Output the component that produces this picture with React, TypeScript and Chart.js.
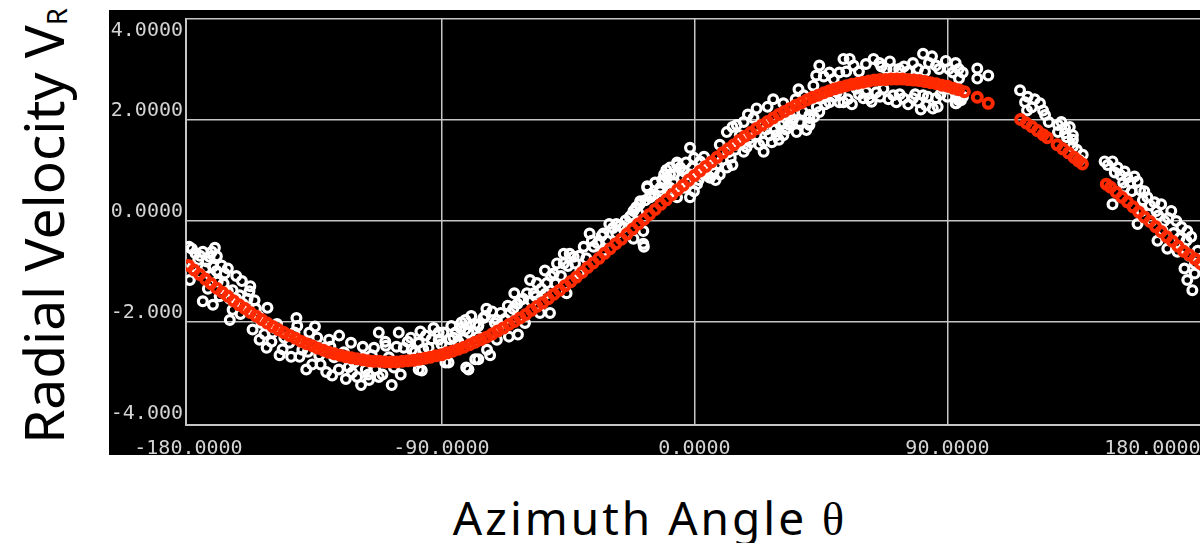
import React, { useEffect, useRef } from 'react';
import { Chart, registerables } from 'chart.js';

Chart.register(...registerables);

// ---------- tick values / labels ----------
const X_TICKS = [-180, -90, 0, 90, 180];
const X_TICK_LABELS = ['-180.0000', '-90.0000', '0.0000', '90.0000', '180.0000'];
const Y_TICKS = [-4, -2, 0, 2, 4];
const Y_TICK_LABELS = ['-4.000', '-2.000', '0.0000', '2.0000', '4.0000'];
const X_GRID = [-90, 0, 90, 180];
const Y_GRID = [-2, 0, 2, 4];

// ---------- observed data (azimuth deg, radial velocity) ----------
const WHITE_A: number[][] = [
  [-179.8,-0.52],[-174.9,-0.62],[-171.7,-0.62],[-169.9,-0.71],[-168.2,-0.89],[-171.3,-0.91],[-178.4,-0.91],[-179.5,-1.18],
  [-174.9,-1.60],[-171.3,-1.67],[-168.9,-1.50],[-164.3,-1.38],[-161.8,-1.48],[-158.3,-1.40],[-164.3,-1.77],[-165.3,-1.97],
  [-159.3,-1.77],[-151.9,-1.73],[-157.2,-2.16],[-154.7,-2.36],[-152.2,-2.52],[-150.1,-2.22],[-147.6,-2.67],[-141.6,-1.93],
  [-141.3,-2.09],[-137.0,-2.22],[-144.1,-2.42],[-139.5,-2.56],[-138.1,-2.95],[-136.0,-2.85],[-133.5,-2.67],[-130.0,-2.36],
  [-126.4,-2.28],[-128.9,-3.07],[-124.0,-3.14],[-121.8,-3.01],[-118.6,-3.26],[-115.8,-3.16],[-112.3,-3.10],[-107.7,-3.26],
  [-116.9,-2.95],[-114.8,-2.67],[-112.3,-2.22],[-109.8,-2.48],[-105.2,-2.22],[-100.6,-2.56],[-98.1,-2.95],[-95.6,-2.28],
  [-91.0,-2.22],[-88.6,-2.81],[-86.5,-2.09],[-81.5,-1.97],[-79.4,-1.89],[-81.2,-2.91],[-78.0,-2.75],
  [-178.8,-0.56],[-175.9,-0.70],[-173.5,-0.81],[-170.6,-0.54],[-167.1,-1.05],[-169.6,-1.21],[-173.1,-1.35],[-165.3,-1.55],
  [-160.7,-1.65],[-156.5,-1.58],[-154.0,-2.03],[-149.4,-2.13],[-145.9,-2.32],[-142.3,-2.22],[-138.8,-2.42],[-134.2,-2.32],
  [-131.7,-2.52],[-124.7,-2.61],[-121.1,-2.81],[-117.6,-2.71],[-128.2,-2.71],[-122.2,-2.42],[-114.0,-2.52],[-108.7,-2.71],
  [-106.9,-2.91],[-103.4,-2.52],[-100.9,-2.32],[-98.1,-2.42],[-94.6,-2.52],[-92.8,-2.13],[-89.3,-2.22],[-85.7,-2.32],
  [-83.3,-2.13],[-80.4,-2.22],[-78.7,-2.42],[-76.9,-2.07],[-75.1,-1.93],
  [-176.5,-0.78],[-172.5,-0.72],[-166.0,-0.95],[-163.0,-1.10],[-161.0,-1.20],[-158.0,-1.30],
  [-177.5,-0.65],[-176.0,-1.05],[-174.0,-0.95],[-172.0,-1.10],[-170.0,-1.00],[-167.5,-1.25],[-166.0,-1.40],[-163.0,-1.55],
  [-161.5,-1.85],[-159.0,-1.55],[-156.0,-1.75],[-155.0,-1.90],[-153.0,-2.25],[-150.5,-2.40],[-148.5,-2.05],[-146.5,-2.55],
  [-143.5,-2.70],[-140.5,-2.70],[-137.5,-2.60],[-135.0,-2.10],[-133.0,-2.85],[-131.0,-3.00],[-129.5,-2.50],[-126.5,-2.95],
  [-123.0,-2.90],[-120.0,-3.10],[-118.0,-2.50],[-116.0,-3.05],[-113.5,-2.95],[-111.0,-3.05],[-110.0,-2.40],[-106.0,-2.50],
  [-104.5,-3.05],[-102.0,-2.40],[-99.5,-2.60],[-97.5,-2.20],[-96.5,-2.55],[-93.5,-2.35],[-90.0,-2.45],[-87.0,-2.35],
  [-84.0,-2.40],[-82.0,-2.35],[-78.0,-2.05],[-77.0,-2.30],
];
const WHITE_B: number[][] = [
  [-97.0,-2.97],[-87.5,-2.81],[-82.9,-2.02],[-74.4,-1.89],[-76.9,-2.09],[-71.0,-2.03],[-68.9,-1.83],[-66.4,-1.69],
  [-70.3,-2.36],[-73.8,-2.56],[-72.7,-2.67],[-76.9,-2.75],[-80.4,-2.95],[-62.8,-2.26],[-60.3,-2.03],[-64.1,-1.44],
  [-62.0,-1.58],[-58.5,-1.18],[-57.1,-1.44],[-55.0,-1.83],[-51.4,-1.83],[-53.2,-0.99],[-48.9,-0.85],[-46.5,-0.66],
  [-44.4,-0.66],[-39.4,-0.52],[-37.3,-0.26],[-45.5,-1.44],[-40.9,-1.05],[-32.4,-0.60],[-30.3,-0.07],[-27.8,-0.26],
  [-25.3,-0.13],[-23.0,0.07],[-20.7,0.26],[-21.7,-0.36],[-18.2,-0.46],[-18.2,-0.21],[-16.8,0.65],[-15.7,0.46],
  [-10.8,0.91],[-8.7,0.65],[-6.2,1.11],[-3.7,0.65],[-1.6,0.46],[-0.2,1.24],[4.4,0.91],
  [-91.0,-2.36],[-85.0,-2.22],[-81.5,-2.16],[-70.3,-1.97],[-65.7,-1.83],[-59.6,-1.44],[-56.1,-1.24],[-52.5,-1.24],
  [-50.1,-1.05],[-46.5,-0.85],[-43.0,-0.72],[-35.9,-0.52],[-32.4,-0.26],[-27.8,-0.07],[-21.7,0.19],[-19.6,0.32],
  [-15.7,0.52],[-12.2,0.65],[-8.7,0.91],[-5.1,1.05],[-1.6,0.91],[2.0,1.17],[5.5,0.85],
  [-74.0,-1.75],[-72.0,-1.80],[-69.5,-2.10],[-67.5,-1.95],[-64.5,-1.75],[-63.0,-1.65],[-61.0,-1.55],[-58.0,-1.60],
  [-56.5,-1.50],[-54.5,-1.35],[-53.0,-1.45],[-51.0,-1.10],[-49.5,-1.25],[-47.5,-1.10],[-45.0,-0.90],[-42.5,-0.85],
  [-41.0,-0.70],[-38.5,-0.75],[-36.5,-0.40],[-34.5,-0.45],[-33.0,-0.30],[-31.0,-0.40],[-29.0,-0.15],[-26.5,-0.10],
  [-24.5,0.00],[-22.5,0.10],[-20.0,0.15],[-17.5,0.40],[-14.0,0.75],[-11.5,0.80],[-10.0,1.00],[-7.5,0.75],
  [-4.5,0.85],[-3.0,1.15],[-0.8,1.05],[1.0,0.95],[3.0,1.05],[-66.0,-2.30],
];
const WHITE_C: number[][] = [
  [-18.0,-0.52],[-16.8,0.68],[-19.3,0.38],[-14.3,0.52],[-12.2,0.58],[-10.8,0.77],[-8.7,1.05],[-6.2,1.15],
  [-3.7,0.97],[-2.7,0.77],[-1.6,1.44],[-6.2,0.46],[-9.7,0.85],[3.4,1.26],[5.5,0.85],[9.0,0.91],
  [11.5,1.05],[9.0,1.50],[11.5,1.75],[15.0,1.89],[16.1,1.69],[19.6,1.63],[21.0,2.03],[22.1,2.22],
  [24.6,1.56],[24.6,1.36],[26.7,1.69],[29.2,1.69],[31.6,1.69],[33.8,1.89],[36.3,1.75],[31.6,1.93],
  [40.9,2.03],[40.9,1.89],[38.8,2.48],[42.3,2.67],[44.4,3.07],[43.3,2.87],[44.4,2.15],[48.0,2.93],
  [51.5,2.93],[53.0,3.20],[55.2,3.20],[56.6,3.07],[50.6,2.54],[53.0,2.34],[57.6,2.61],[60.1,2.42],
  [62.2,2.42],[63.7,3.20],[65.8,3.12],[68.3,3.00],[70.7,3.00],[72.8,3.00],[77.7,3.12],[81.3,3.30],
  [83.4,3.12],[85.9,3.07],[89.4,3.16],[92.9,3.12],[91.9,2.93],[95.4,2.93],[64.7,2.54],[67.2,2.61],
  [70.7,2.48],[71.8,2.34],[74.3,2.42],[77.7,2.42],[79.8,2.34],[82.3,2.28],[84.8,2.22],[81.3,2.48],
  [85.9,2.42],[88.4,2.61],[91.9,2.61],[92.9,2.32],[94.0,2.38],[40.9,2.09],[48.0,2.34],[45.5,2.42],
  [51.5,2.34],[40.5,1.93],[39.8,1.79],[35.3,2.13],[31.6,2.32],[33.8,2.09],[30.5,1.89],[24.6,1.89],
  [22.1,1.69],[15.0,1.50],[17.5,1.36],[12.9,1.24],[8.0,1.11],[3.4,0.91],[6.9,0.97],[0.9,0.72],
  [-0.2,0.58],[-5.1,0.65],[-8.7,0.58],[-7.3,0.91],
  [1.5,0.80],[4.0,1.00],[6.0,1.10],[7.5,0.80],[10.0,1.20],[12.0,1.35],[13.5,1.10],[14.5,1.40],
  [16.5,1.55],[18.5,1.45],[20.0,1.55],[23.0,1.50],[25.5,1.80],[27.5,1.55],[28.5,1.80],[30.0,1.60],
  [32.5,1.80],[34.5,1.95],[35.0,2.00],[37.5,1.95],[38.5,2.15],[42.5,2.05],[43.5,2.25],[46.5,2.30],
  [49.5,2.45],[52.0,2.50],[54.5,2.40],[56.0,2.30],[58.5,2.50],[61.0,2.55],[63.0,2.35],[66.0,2.45],
  [69.0,2.40],[73.0,2.50],[76.0,2.30],[78.5,2.50],[80.5,2.20],[83.0,2.45],[86.5,2.25],[87.5,2.50],
  [90.0,2.45],[93.5,2.50],[95.5,2.45],
  [46.0,2.85],[49.5,2.80],[54.0,2.95],[58.5,2.95],[61.0,3.10],[66.5,3.05],[69.5,3.15],[74.5,3.05],
  [76.0,2.95],[79.5,3.00],[82.0,2.95],[84.5,3.25],[87.0,3.00],[90.5,3.00],[94.0,3.00],
  [13.5,1.85],[17.5,1.95],[19.0,2.10],[26.0,2.25],[28.0,2.40],[36.0,2.40],[37.0,2.60],
];
const WHITE_D: number[][] = [
  [94.1,2.81],[100.6,3.01],[100.6,2.81],[104.5,2.87],[94.8,2.38],[93.1,2.32],[115.8,2.58],[117.6,2.34],
  [120.0,2.24],[122.9,2.32],[124.0,2.18],[118.3,2.18],[124.7,2.09],[129.3,1.89],[131.8,1.83],[133.5,1.85],
  [129.3,1.75],[134.6,1.69],[134.6,1.60],[134.6,1.46],[138.1,1.30],[131.8,1.73],[145.9,1.17],[148.7,1.17],
  [150.5,1.05],[153.0,0.97],[154.0,0.85],[156.5,0.87],[157.6,0.77],[153.0,0.65],[155.5,0.58],[160.0,0.58],
  [161.1,0.46],[163.6,0.36],[166.0,0.32],[164.3,0.19],[169.6,0.19],[171.4,-0.01],[173.2,-0.13],[175.3,-0.21],
  [176.7,-0.32],[175.0,-0.40],[148.7,0.32],[157.6,-0.07],[164.7,-0.40],[168.2,-0.56],[171.8,-0.62],[174.3,-0.95],
  [175.3,-1.18],[177.1,-1.38],[177.9,-1.05],[159.0,0.19],[162.5,-0.01],[167.1,-0.01],
  [118.5,2.45],[121.0,2.40],[126.0,1.95],[130.5,1.95],[132.5,1.65],[136.0,1.40],[137.0,1.20],[147.0,1.10],
  [149.5,0.95],[151.5,0.90],[152.5,0.75],[155.0,0.75],[158.5,0.60],[159.5,0.40],[162.0,0.30],[165.0,0.10],
  [166.5,-0.20],[168.5,0.05],[170.5,-0.25],[172.5,-0.35],[174.0,-0.55],[176.0,-0.70],[178.0,-0.85],[179.0,-0.60],
];

// ---------- model curve (red) ----------
const RED_MAIN: number[][] = [
  [-180,-0.89],[-178,-0.98],[-176,-1.07],[-174,-1.16],[-172,-1.25],[-170,-1.34],[-168,-1.42],[-166,-1.50],
  [-164,-1.59],[-162,-1.67],[-160,-1.74],[-158,-1.82],[-156,-1.89],[-154,-1.96],[-152,-2.03],[-150,-2.10],
  [-148,-2.16],[-146,-2.22],[-144,-2.28],[-142,-2.33],[-140,-2.39],[-138,-2.44],[-136,-2.48],[-134,-2.53],
  [-132,-2.57],[-130,-2.61],[-128,-2.64],[-126,-2.67],[-124,-2.70],[-122,-2.72],[-120,-2.74],[-118,-2.76],
  [-116,-2.78],[-114,-2.79],[-112,-2.79],[-110,-2.80],[-108,-2.80],[-106,-2.80],[-104,-2.79],[-102,-2.78],
  [-100,-2.77],[-98,-2.75],[-96,-2.73],[-94,-2.71],[-92,-2.68],[-90,-2.66],[-88,-2.62],[-86,-2.59],
  [-84,-2.55],[-82,-2.51],[-80,-2.46],[-78,-2.41],[-76,-2.36],[-74,-2.31],[-72,-2.25],[-70,-2.19],
  [-68,-2.13],[-66,-2.06],[-64,-2.00],[-62,-1.93],[-60,-1.86],[-58,-1.78],[-56,-1.70],[-54,-1.63],
  [-52,-1.55],[-50,-1.46],[-48,-1.38],[-46,-1.29],[-44,-1.21],[-42,-1.12],[-40,-1.03],[-38,-0.93],
  [-36,-0.84],[-34,-0.75],[-32,-0.65],[-30,-0.56],[-28,-0.46],[-26,-0.37],[-24,-0.27],[-22,-0.17],
  [-20,-0.07],[-18,0.02],[-16,0.12],[-14,0.22],[-12,0.32],[-10,0.41],[-8,0.51],[-6,0.61],
  [-4,0.70],[-2,0.80],[0,0.89],[2,0.98],[4,1.07],[6,1.16],[8,1.25],[10,1.34],
  [12,1.42],[14,1.50],[16,1.59],[18,1.67],[20,1.74],[22,1.82],[24,1.89],[26,1.96],
  [28,2.03],[30,2.10],[32,2.16],[34,2.22],[36,2.28],[38,2.33],[40,2.39],[42,2.44],
  [44,2.48],[46,2.53],[48,2.57],[50,2.61],[52,2.64],[54,2.67],[56,2.70],[58,2.72],
  [60,2.74],[62,2.76],[64,2.78],[66,2.79],[68,2.79],[70,2.80],[72,2.80],[74,2.80],
  [76,2.79],[78,2.78],[80,2.77],[82,2.75],[84,2.73],[86,2.71],[88,2.68],[90,2.66],
  [92,2.62],[94,2.59],[96,2.55],
];
const RED_TAIL: number[][] = [
  [100.6,2.44],[104.5,2.32],[116,2.00],[118,1.93],[120,1.86],[122,1.78],[124,1.70],[125.5,1.64],
  [129,1.50],[131,1.42],[133,1.34],[135,1.25],[136.5,1.18],[138,1.12],
  [146.5,0.72],[148,0.66],[150,0.56],[152,0.46],[154,0.37],[156,0.27],[158,0.17],[160,0.07],
  [162,-0.02],[164,-0.12],[166,-0.22],[168,-0.32],[170,-0.41],[172,-0.51],[174,-0.61],[176,-0.68],
  [178,-0.76],[180,-0.85],
];

const LABEL_COLOR = '#d4d4d4';
const GRID_COLOR = '#c6c6c6';
const TICK_FONT = '20px "DejaVu Sans Mono", monospace';

const toPts = (arr: number[][]) => arr.map(([x, y]) => ({ x, y }));

const tickTextPlugin = {
  id: 'tickText',
  afterDraw(chart: any) {
    const { ctx, chartArea } = chart;
    const xs = chart.scales.x;
    const ys = chart.scales.y;
    ctx.save();
    ctx.fillStyle = LABEL_COLOR;
    ctx.font = TICK_FONT;
    ctx.textBaseline = 'alphabetic';
    ctx.textAlign = 'right';
    Y_TICKS.forEach((v, i) => {
      const py = Math.max(ys.getPixelForValue(v) - 3, chartArea.top + 17);
      ctx.fillText(Y_TICK_LABELS[i], chartArea.left - 3, py);
    });
    ctx.textAlign = 'center';
    X_TICKS.forEach((v, i) => {
      const w = ctx.measureText(X_TICK_LABELS[i]).width;
      const cx = Math.min(xs.getPixelForValue(v), chartArea.right - w / 2);
      ctx.fillText(X_TICK_LABELS[i], cx, chartArea.bottom + 29);
    });
    ctx.restore();
  },
};

function ScatterChart() {
  const ref = useRef<HTMLCanvasElement | null>(null);
  useEffect(() => {
    if (!ref.current) return;
    const chart = new Chart(ref.current, {
      type: 'scatter',
      data: {
        datasets: [
          {
            label: 'model',
            data: [...toPts(RED_MAIN), ...toPts(RED_TAIL)],
            pointBorderColor: '#ff2a00',
            borderColor: '#ff2a00',
            pointBackgroundColor: 'rgba(0,0,0,0)',
            pointStyle: 'circle',
            pointRadius: 4.5,
            pointBorderWidth: 4,
            order: 0,
          },
          {
            label: 'observed',
            data: [...toPts(WHITE_A), ...toPts(WHITE_B), ...toPts(WHITE_C), ...toPts(WHITE_D)],
            pointBorderColor: '#ffffff',
            borderColor: '#ffffff',
            pointBackgroundColor: 'rgba(0,0,0,0)',
            pointStyle: 'circle',
            pointRadius: 4.4,
            pointBorderWidth: 3.2,
            order: 1,
          },
        ],
      },
      options: {
        animation: false,
        responsive: true,
        maintainAspectRatio: false,
        layout: { padding: { top: 1, right: 2.5, left: 0, bottom: 0 } },
        plugins: { legend: { display: false }, tooltip: { enabled: false } },
        events: [],
        scales: {
          x: {
            type: 'linear',
            min: -180.88,
            max: 180,
            afterBuildTicks: (s: any) => { s.ticks = X_GRID.map((value) => ({ value })); },
            afterFit: (s: any) => { s.height = 30; },
            ticks: { display: false },
            grid: { color: GRID_COLOR, lineWidth: 1.5, drawTicks: false },
            border: { display: true, color: GRID_COLOR, width: 2 },
          },
          y: {
            type: 'linear',
            min: -4.05,
            max: 4.0,
            afterBuildTicks: (s: any) => { s.ticks = Y_GRID.map((value) => ({ value })); },
            afterFit: (s: any) => { s.width = 77; },
            ticks: { display: false },
            grid: { color: GRID_COLOR, lineWidth: 1.5, drawTicks: false },
            border: { display: true, color: GRID_COLOR, width: 2 },
          },
        },
      },
      plugins: [tickTextPlugin],
    });
    return () => chart.destroy();
  }, []);
  return <canvas ref={ref} />;
}

export default function App() {
  const titleFont = '"Comic Sans MS", "Noto Sans", sans-serif';
  return (
    <div
      style={{
        position: 'fixed',
        left: 0,
        top: 0,
        width: 1200,
        height: 543,
        overflow: 'hidden',
        background: '#ffffff',
      }}
    >
      <div
        style={{
          position: 'absolute',
          left: 109,
          top: 10,
          width: 1100,
          height: 445,
          background: '#000000',
        }}
      >
        <ScatterChart />
      </div>
      <div
        style={{
          position: 'absolute',
          left: 42,
          top: 226,
          transform: 'translate(-50%, -50%) rotate(-90deg)',
          whiteSpace: 'nowrap',
          fontFamily: titleFont,
          fontSize: 55,
          lineHeight: 1,
          color: '#000',
        }}
      >
        Radial Velocity V
        <span style={{ fontSize: '0.5em', position: 'relative', top: '0.12em' }}>R</span>
      </div>
      <div
        style={{
          position: 'absolute',
          left: 650,
          top: 494,
          transform: 'translateX(-50%)',
          whiteSpace: 'nowrap',
          fontFamily: titleFont,
          fontSize: 46,
          letterSpacing: 3,
          lineHeight: 1,
          color: '#000',
        }}
      >
        Azimuth Angle{' '}
        <span style={{ fontFamily: '"Liberation Serif", "DejaVu Serif", serif' }}>θ</span>
      </div>
    </div>
  );
}
